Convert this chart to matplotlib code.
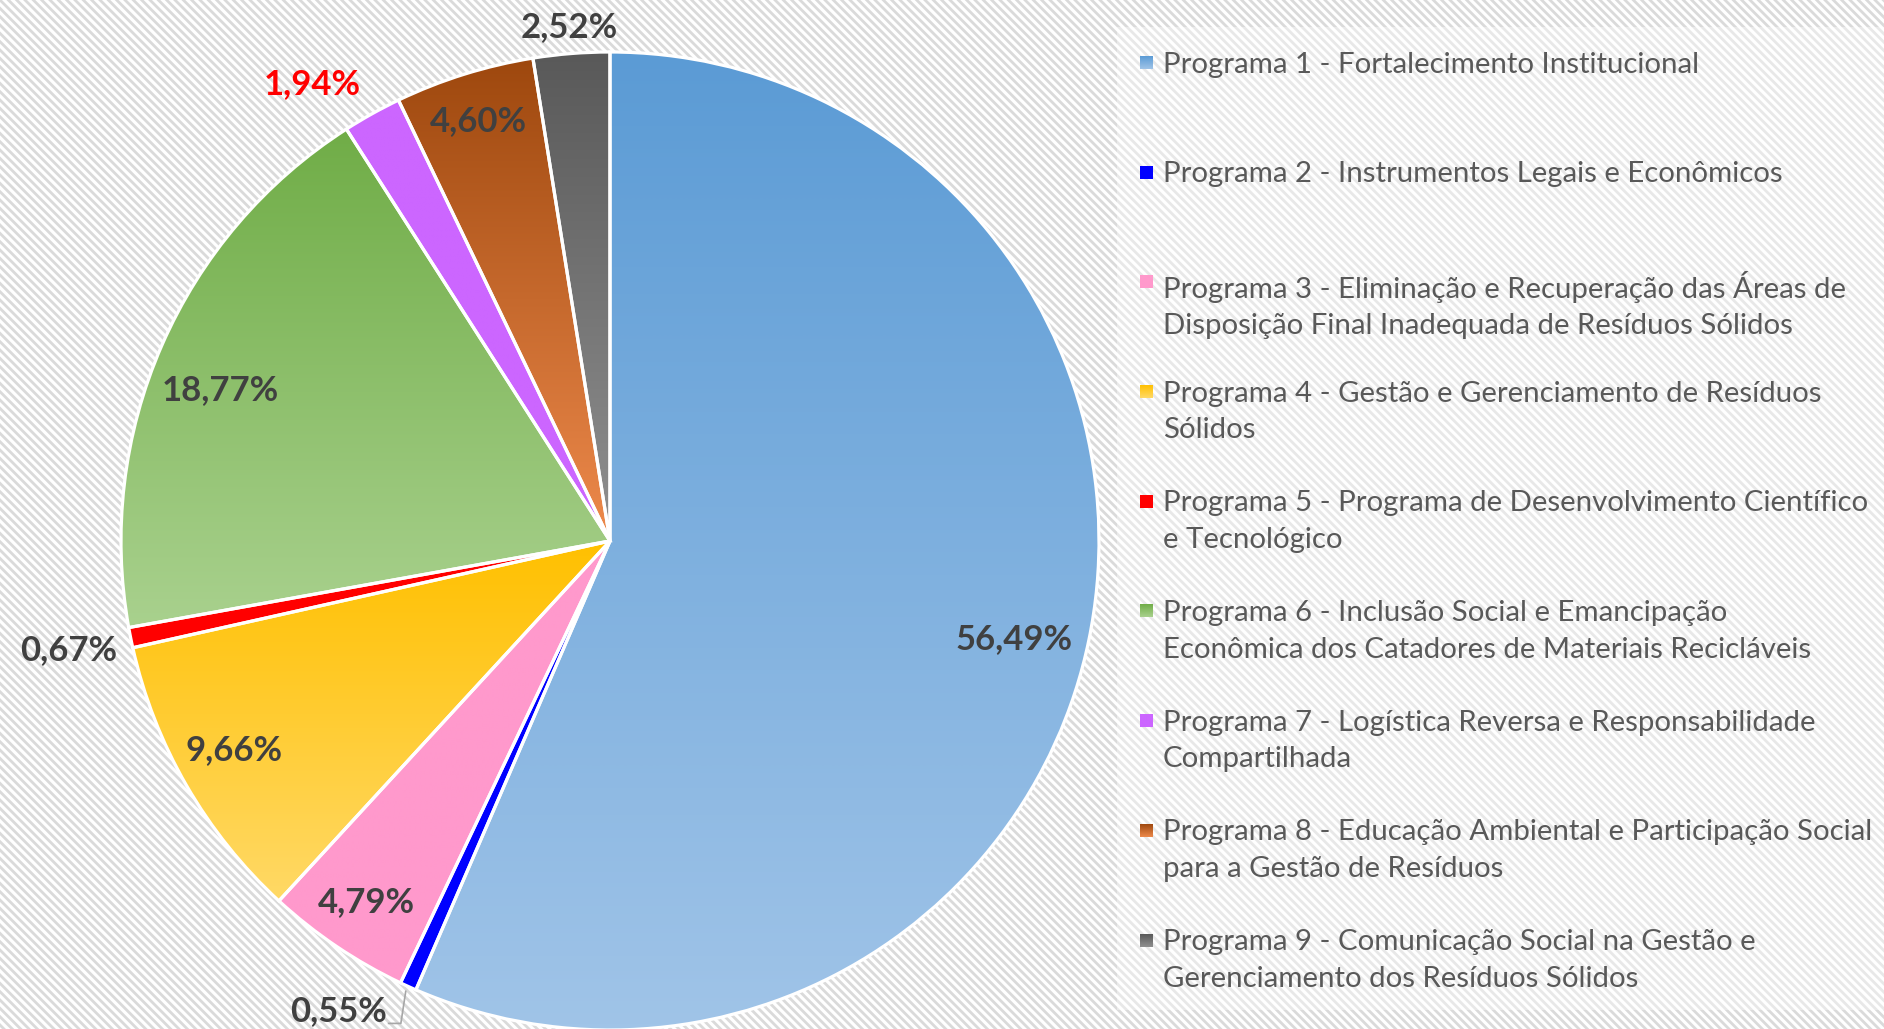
import numpy as np
import matplotlib
matplotlib.use("Agg")
import matplotlib.pyplot as plt
from matplotlib.colors import LinearSegmentedColormap
from matplotlib.patches import Rectangle

# data
programas = [
    "Programa 1 - Fortalecimento Institucional",
    "Programa 2 - Instrumentos Legais e Econômicos",
    "Programa 3 - Eliminação e Recuperação das Áreas de\nDisposição Final Inadequada de Resíduos Sólidos",
    "Programa 4 - Gestão e Gerenciamento de Resíduos\nSólidos",
    "Programa 5 - Programa de Desenvolvimento Científico\ne Tecnológico",
    "Programa 6 - Inclusão Social e Emancipação\nEconômica dos Catadores de Materiais Recicláveis",
    "Programa 7 - Logística Reversa e Responsabilidade\nCompartilhada",
    "Programa 8 - Educação Ambiental e Participação Social\npara a Gestão de Resíduos",
    "Programa 9 - Comunicação Social na Gestão e\nGerenciamento dos Resíduos Sólidos",
]
percentuais = [56.49, 0.55, 4.79, 9.66, 0.67, 18.77, 1.94, 4.60, 2.52]
rotulos = ["56,49%", "0,55%", "4,79%", "9,66%", "0,67%", "18,77%", "1,94%", "4,60%", "2,52%"]

# gradient colours top -> bottom
cores_topo = ["#5B9BD5", "#0000FF", "#FF99CC", "#FFC000", "#FF0000",
              "#70AD47", "#CC66FF", "#9E480E", "#595959"]
cores_base = ["#A0C4E8", "#0000FF", "#FF99CC", "#FFD966", "#FF0000",
              "#A9D18E", "#CC66FF", "#EE8A4C", "#909090"]
cor_rotulo = ["#404040"] * 9
cor_rotulo[6] = "#FF0000"

# label placement: radius factor and angle tweak (deg)
rot_raio = [0.85, 1.11, 0.89, 0.88, 1.13, 0.855, 1.115, 0.90, 1.055]
rot_desvio = [-2, -5.6, 0, -1, 0, 2.5, 4, 0, 0]

W, H = 1884, 1029
fig = plt.figure(figsize=(W / 100, H / 100), dpi=100)
fig.patch.set_facecolor("white")

# striped background
plt.rcParams["hatch.linewidth"] = 2.0
bg = fig.add_axes([0, 0, 1, 1], zorder=0)
bg.set_xlim(0, W)
bg.set_ylim(H, 0)
bg.axis("off")
bg.add_patch(Rectangle((0, 0), W, H, facecolor="white", edgecolor="#DADADA",
                       hatch="\\\\\\\\", linewidth=0))
bg.add_patch(Rectangle((1117, 27), W - 1117, 983, facecolor="white", alpha=0.4,
                       linewidth=0))

# pie
R_px = 489
cx, cy = 610, 541
ax = fig.add_axes([(cx - R_px) / W, (H - cy - R_px) / H, 2 * R_px / W, 2 * R_px / H],
                  zorder=1)
ax.set_facecolor("none")
wedges, _ = ax.pie(percentuais, startangle=90, counterclock=False, radius=1,
                   wedgeprops=dict(edgecolor="white", linewidth=2.3))

grad = np.linspace(0, 1, 256).reshape(-1, 1)
for w, c0, c1 in zip(wedges, cores_topo, cores_base):
    ext = w.get_path().get_extents()
    cmap = LinearSegmentedColormap.from_list("g", [c0, c1])
    im = ax.imshow(grad, cmap=cmap, aspect="auto", origin="upper",
                   extent=[ext.x0, ext.x1, ext.y0, ext.y1], zorder=2,
                   interpolation="bilinear")
    im.set_clip_path(w)
    w.set_zorder(3)
    w.set_facecolor("none")
ax.set_xlim(-1, 1)
ax.set_ylim(-1, 1)
ax.set_aspect("equal")

for i, w in enumerate(wedges):
    ang = np.deg2rad((w.theta1 + w.theta2) / 2 + rot_desvio[i])
    r = rot_raio[i]
    x, y = r * np.cos(ang), r * np.sin(ang)
    ax.text(x, y, rotulos[i], ha="center", va="center", fontsize=25,
            fontweight="bold", family="Lato", color=cor_rotulo[i], zorder=5,
            clip_on=False)
    if i == 1:
        # leader line for the thin slice
        a0 = np.deg2rad((w.theta1 + w.theta2) / 2)
        px, py = np.cos(a0), np.sin(a0)
        ax.plot([px - 0.005, px - 0.015, px - 0.04], [py - 0.01, y - 0.025, y - 0.025],
                color="#A6A6A6", lw=1.2, zorder=4, clip_on=False)
ax.axis("off")

# legend in pixel coords
lg = fig.add_axes([0, 0, 1, 1], zorder=2)
lg.set_xlim(0, W)
lg.set_ylim(H, 0)
lg.axis("off")
y0, passo = 62.5, 109.7
sq = 13
for i, nome in enumerate(programas):
    yc = y0 + i * passo
    cmap = LinearSegmentedColormap.from_list("g", [cores_topo[i], cores_base[i]])
    lg.imshow(grad, cmap=cmap, aspect="auto",
              extent=[1140, 1140 + sq, yc + sq / 2, yc - sq / 2], zorder=3)
    lg.text(1163, yc - 11, nome, ha="left", va="top", fontsize=21.2,
            family="Lato", color="#595959", linespacing=1.5)
lg.set_xlim(0, W)
lg.set_ylim(H, 0)

fig.savefig("out.png", dpi=100)
